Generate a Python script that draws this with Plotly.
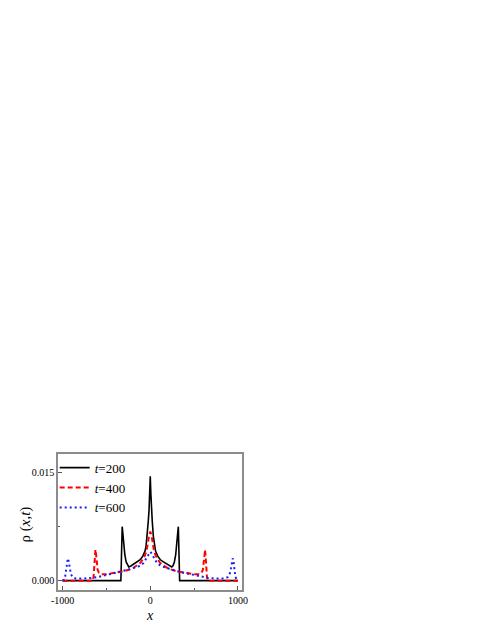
import plotly.graph_objects as go

# ---- data ----
x_t200 = [-1000, -400, -335, -330, -326, -320, -312, -302, -290, -275, -260, -245, -225, -190, -150, -115, -85, -60, -48, -35, -23, -14, -7, 0,
          7, 14, 23, 35, 48, 60, 85, 115, 150, 190, 225, 245, 260, 275, 290, 302, 312, 320, 326, 330, 335, 400, 1000]
y_t200 = [0, 0, 0, 0.0025, 0.0055, 0.0075, 0.0065, 0.0048, 0.0036, 0.0026, 0.0021, 0.0019, 0.002, 0.0023, 0.0026, 0.0029, 0.0034, 0.0041, 0.0048, 0.0062, 0.0082, 0.0098, 0.012, 0.0145,
          0.012, 0.0098, 0.0082, 0.0062, 0.0048, 0.0041, 0.0034, 0.0029, 0.0026, 0.0023, 0.002, 0.0019, 0.0021, 0.0026, 0.0036, 0.0048, 0.0065, 0.0075, 0.0055, 0.0025, 0, 0, 0]

x_t400 = [-1000, -655, -646, -638, -631, -625, -618, -610, -600, -585, -560, -500, -400, -300, -200, -140, -110, -80, -60, -40, -25, -12, 0,
          12, 25, 40, 60, 80, 110, 140, 200, 300, 400, 500, 560, 585, 600, 610, 618, 625, 631, 638, 646, 655, 1000]
y_t400 = [0, 0, 0.0006, 0.0018, 0.0034, 0.0043, 0.0037, 0.0024, 0.0015, 0.0011, 0.0009, 0.0009, 0.0011, 0.0013, 0.0017, 0.0022, 0.0025, 0.0031, 0.0035, 0.0043, 0.0055, 0.0064, 0.0068,
          0.0064, 0.0055, 0.0043, 0.0035, 0.0031, 0.0025, 0.0022, 0.0017, 0.0013, 0.0011, 0.0009, 0.0009, 0.0011, 0.0015, 0.0024, 0.0037, 0.0043, 0.0034, 0.0018, 0.0006, 0, 0]

x_t600 = [-1000, -985, -970, -958, -948, -940, -930, -920, -905, -885, -850, -750, -650, -560, -460, -340, -230, -130, -80, -50, -30, -15, 0,
          15, 30, 50, 80, 130, 230, 340, 460, 560, 650, 750, 850, 885, 905, 920, 930, 940, 948, 958, 970, 985, 1000]
y_t600 = [0, 0.0001, 0.0006, 0.0016, 0.0028, 0.0031, 0.0027, 0.0017, 0.0009, 0.0005, 0.0003, 0.0003, 0.0004, 0.0006, 0.0009, 0.0012, 0.0016, 0.002, 0.0024, 0.003, 0.0034, 0.0038, 0.004,
          0.0038, 0.0034, 0.003, 0.0024, 0.002, 0.0016, 0.0012, 0.0009, 0.0006, 0.0004, 0.0003, 0.0003, 0.0005, 0.0009, 0.0017, 0.0027, 0.0031, 0.0028, 0.0016, 0.0006, 0.0001, 0]

labels = ["<i>t</i>=200", "<i>t</i>=400", "<i>t</i>=600"]
x_tickvals = [-1000, 0, 1000]
x_ticktext = ["-1000", "0", "1000"]
y_tickvals = [0.0, 0.015]
y_ticktext = ["0.000", "0.015"]

FONT = "Liberation Serif"

fig = go.Figure()
fig.add_trace(go.Scatter(x=x_t200, y=y_t200, mode="lines", name=labels[0],
                         line=dict(color="black", width=1.6)))
fig.add_trace(go.Scatter(x=x_t400, y=y_t400, mode="lines", name=labels[1],
                         line=dict(color="#ff0000", width=2, dash="5px,3px")))
fig.add_trace(go.Scatter(x=x_t600, y=y_t600, mode="lines", name=labels[2],
                         line=dict(color="#1a1aff", width=2, dash="2px,3px")))

axis_common = dict(showline=True, mirror=True, linecolor="#8c8c8c", linewidth=1.5,
                   showgrid=False, zeroline=False, ticks="inside", ticklen=4,
                   tickcolor="#555555", tickfont=dict(family=FONT, size=10, color="black"))

fig.update_layout(
    width=491, height=635,
    margin=dict(l=50, r=257, t=446, b=53),
    paper_bgcolor="white", plot_bgcolor="white",
    showlegend=True,
    legend=dict(x=-0.018, y=1.01, xanchor="left", yanchor="top",
                bgcolor="rgba(0,0,0,0)", font=dict(family=FONT, size=13, color="black"),
                tracegroupgap=0, itemwidth=30),
    xaxis=dict(range=[-1052, 1046], tickvals=x_tickvals, ticktext=x_ticktext,
               minor=dict(ticks="inside", ticklen=2, dtick=500, tick0=0, tickcolor="#555555"),
               **axis_common),
    yaxis=dict(range=[-0.0013, 0.0176], tickvals=y_tickvals, ticktext=y_ticktext,
               minor=dict(ticks="inside", ticklen=2, dtick=0.0075, tick0=0, tickcolor="#555555"),
               **axis_common),
    annotations=[
        dict(text="<i>x</i>", xref="paper", yref="paper", x=0.5, y=-0.19,
             xanchor="center", yanchor="middle", showarrow=False,
             font=dict(family=FONT, size=14, color="black")),
        dict(text="ρ (<i>x</i>,<i>t</i>)", xref="paper", yref="paper", x=-0.175, y=0.48,
             xanchor="center", yanchor="middle", showarrow=False, textangle=-90,
             font=dict(family=FONT, size=15, color="black")),
    ],
)

fig.write_html("out.html")
